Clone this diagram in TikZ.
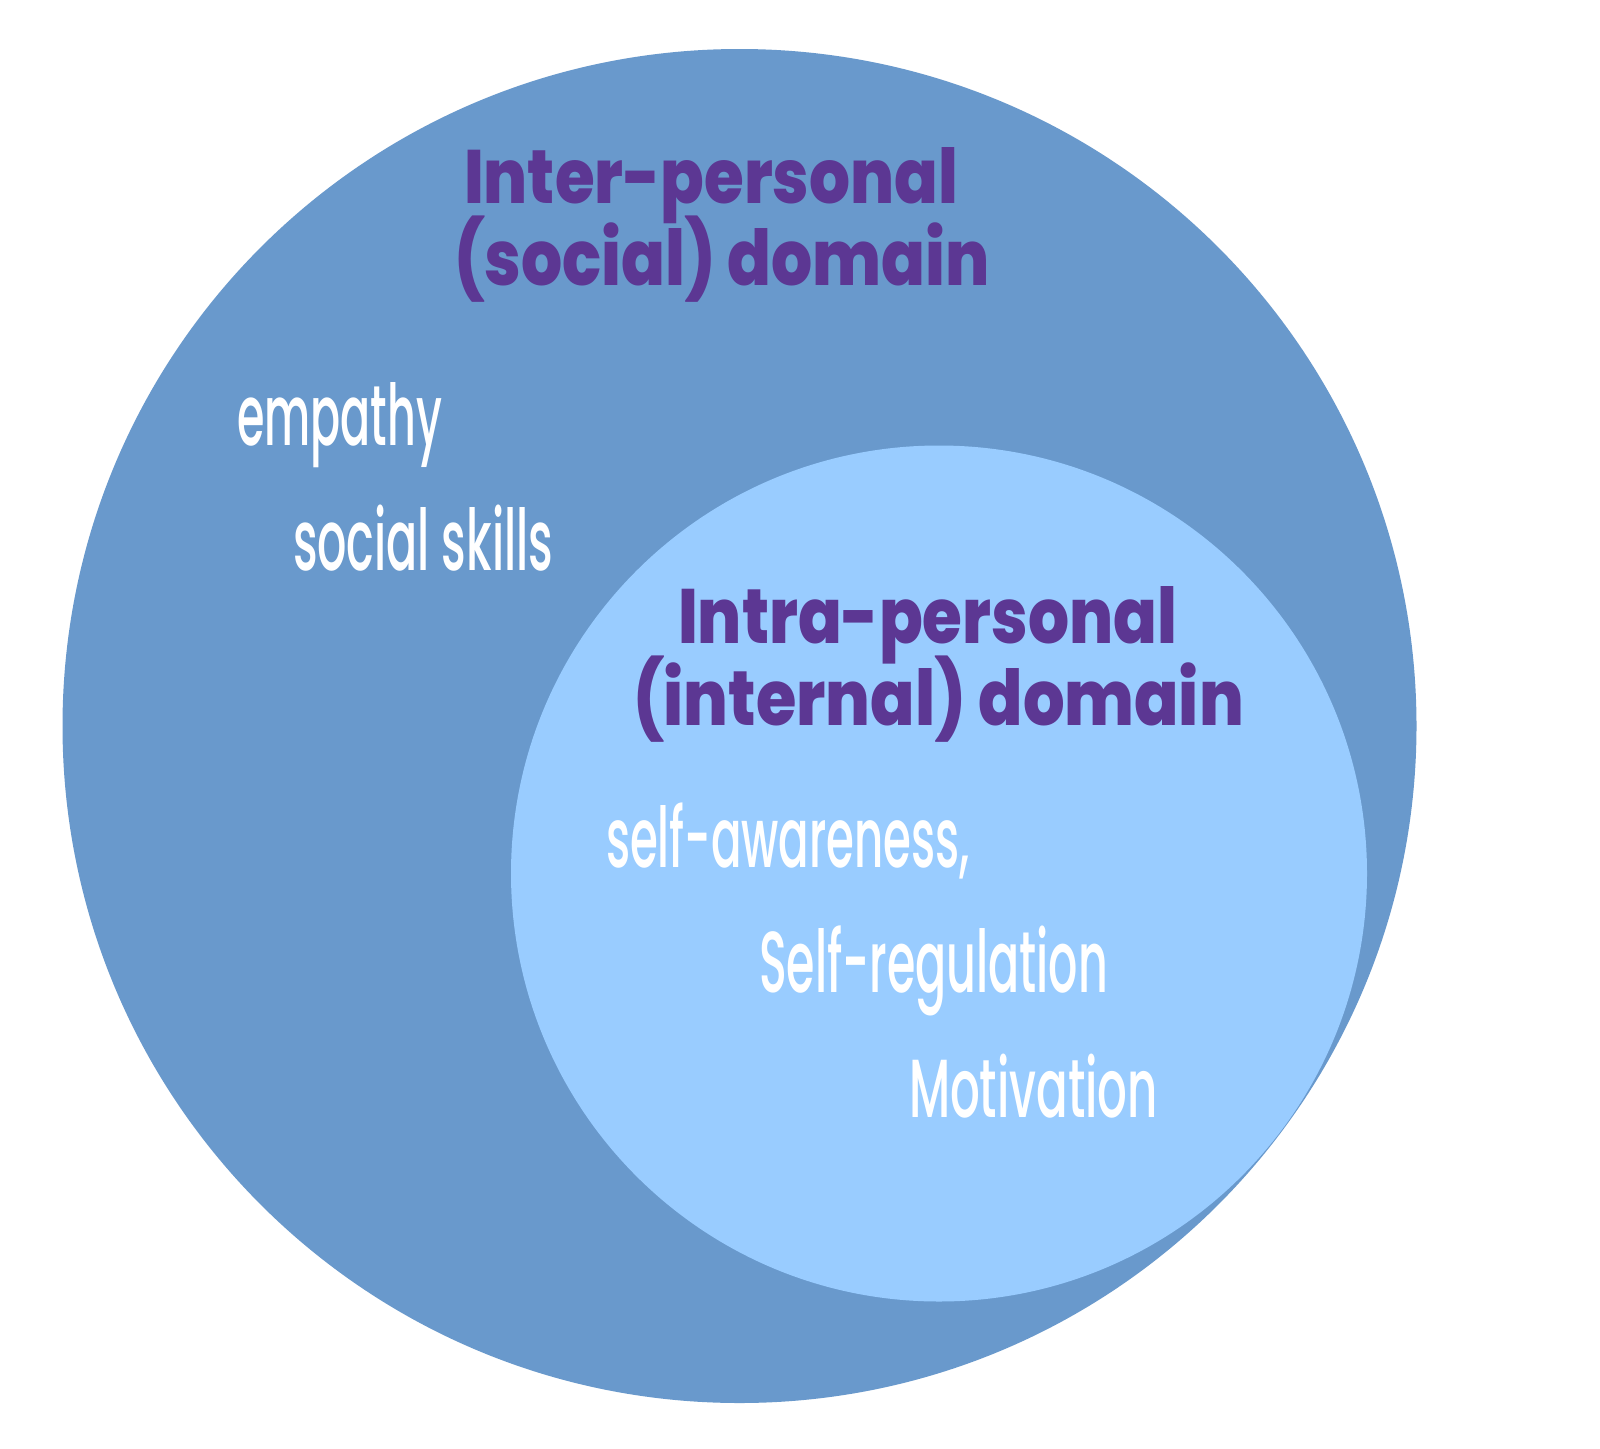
\documentclass[tikz,border=0pt]{standalone}
\usepackage{fontspec}
\usepackage{graphicx}
\newfontfamily\titlefam{Poppins ExtraBold}
\newfontfamily\bodyfam{Poppins Medium}
\definecolor{outerblue}{HTML}{6999CC}
\definecolor{innerblue}{HTML}{99CCFF}
\definecolor{titlepurple}{HTML}{5C3793}
% fit text: #1 font, #2 width, #3 height of an "l", #4 text
\newcommand\fitbox[4]{%
  \begingroup
  \setbox0\hbox{\fontsize{60}{72}\selectfont#1#4}%
  \setbox2\hbox{\fontsize{60}{72}\selectfont#1l}%
  \pgfmathsetmacro\fsx{#2/\the\wd0}%
  \pgfmathsetmacro\fsy{#3/\the\ht2}%
  \scalebox{\fsx}[\fsy]{\box0}%
  \endgroup}
\tikzset{
  lbl/.style={anchor=base west, inner sep=0pt, outer sep=0pt},
  titlelbl/.style={lbl, text=titlepurple},
  itemlbl/.style={lbl, text=white},
}
\begin{document}
\begin{tikzpicture}[x=1pt,y=-1pt]
\useasboundingbox (0,0) rectangle (1600,1448);
\fill[white] (0,0) rectangle (1600,1448);
\fill[outerblue] (739.5,726) circle[radius=677];
\fill[innerblue] (939,873.5) circle[radius=428];
% outer domain
\node[titlelbl] (inter1) at (464,203) {\fitbox{\titlefam}{494}{56}{Inter-personal}};
\node[titlelbl] (inter2) at (454,285) {\fitbox{\titlefam}{536}{57}{(social) domain}};
\node[itemlbl] (empathy) at (237,445) {\fitbox{\bodyfam}{205}{63}{empathy}};
\node[itemlbl] (social) at (293,570) {\fitbox{\bodyfam}{260}{63}{social skills}};
% inner domain
\node[titlelbl] (intra1) at (678,643) {\fitbox{\titlefam}{499}{57}{Intra-personal}};
\node[titlelbl] (intra2) at (633,725) {\fitbox{\titlefam}{611}{57}{(internal) domain}};
\node[itemlbl] (aware) at (606,867) {\fitbox{\bodyfam}{364}{62}{self-awareness,}};
\node[itemlbl] (regul) at (759,992) {\fitbox{\bodyfam}{349}{64}{Self-regulation}};
\node[itemlbl] (motiv) at (909,1117) {\fitbox{\bodyfam}{249}{61}{Motivation}};
\end{tikzpicture}
\end{document}
